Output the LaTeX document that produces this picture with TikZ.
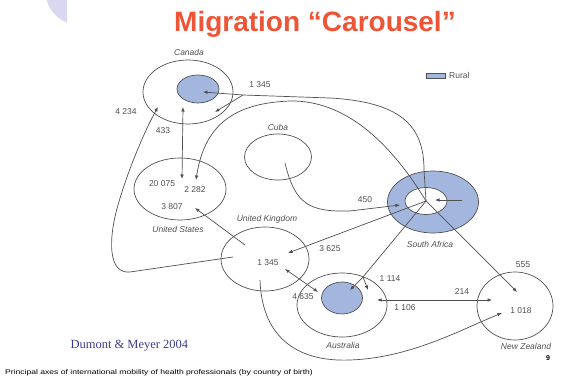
\documentclass[tikz,border=0pt]{standalone}
\usepackage{fontspec}
\setmainfont{Liberation Sans}
\newfontfamily\dmfont{Liberation Serif}
\usetikzlibrary{shapes.geometric,arrows.meta}
\definecolor{linegray}{HTML}{505050}
\definecolor{ruralblue}{HTML}{A3B6DD}
\definecolor{titlered}{HTML}{EE5436}
\definecolor{dmblue}{HTML}{3C3C8A}
\definecolor{lavender}{HTML}{D8D8F0}

\begin{document}
\begin{tikzpicture}[x=1pt,y=-1pt,>={Latex[length=4.5pt,width=3.6pt]},
	country/.style={draw=linegray, ellipse, line width=0.7pt, inner sep=0pt},
	rural/.style={country, fill=ruralblue},
	flow/.style={draw=linegray, line width=0.7pt},
	num/.style={font=\fontsize{8.5}{9}\selectfont, text=linegray, inner sep=0pt},
	cname/.style={num, font=\fontsize{8.5}{9}\selectfont\itshape}]
		\useasboundingbox (0,0) rectangle (561,379);
		\begin{scope}
		\clip (0,0) rectangle (67,30);
		\fill[lavender] (80,-10) circle (35);
		\end{scope}
		\node[font=\bfseries\fontsize{28}{30}\selectfont, text=titlered] (title) at (315,24) {Migration “Carousel”};
		\node[country, minimum width=90pt, minimum height=64pt] (canada) at (188,92) {};
		\node[rural, minimum width=42pt, minimum height=28pt] (canadain) at (198,89) {};
		\node[country, minimum width=92pt, minimum height=62pt] (usa) at (180,189) {};
		\node[country, minimum width=67pt, minimum height=46pt] (cuba) at (278,157) {};
		\node[rural, minimum width=91pt, minimum height=62pt] (safrica) at (433,202) {};
		\node[country, fill=white, minimum width=42pt, minimum height=27pt] (safricain) at (426,201) {};
		\node[country, minimum width=88pt, minimum height=64pt] (uk) at (265,259) {};
		\node[country, minimum width=90pt, minimum height=64pt] (australia) at (342,305) {};
		\node[rural, minimum width=41pt, minimum height=32pt] (australiain) at (342,298) {};
		\node[country, minimum width=76pt, minimum height=68pt] (nz) at (515,306) {};
		\node[cname] (canadaname) at (189,52) {Canada};
		\node[cname] (usaname) at (178,229) {United States};
		\node[cname] (cubaname) at (278,127) {Cuba};
		\node[cname] (safricaname) at (430,244) {South Africa};
		\node[cname] (ukname) at (267,219) {United Kingdom};
		\node[cname] (australianame) at (343,345) {Australia};
		\node[cname] (nzname) at (526,346) {New Zealand};
		\node[num] (cain) at (260,85) {1 345};
		\node[num] (ukca) at (126,112) {4 234};
		\node[num] (caus) at (163,131) {433};
		\node[num] (usca) at (162,184) {20 075};
		\node[num] (ussa) at (195,190) {2 282};
		\node[num] (usuk) at (172,207) {3 807};
		\node[num] (cubasa) at (365,200) {450};
		\node[num] (ukin) at (268,263) {1 345};
		\node[num] (sauk) at (330,249) {3 625};
		\node[num] (saau) at (390,279) {1 114};
		\node[num] (ukau) at (303,297) {4 635};
		\node[num] (nzau) at (405,308) {1 106};
		\node[num] (aunz) at (462,292) {214};
		\node[num] (sanz) at (523,265) {555};
		\node[num] (uknz) at (521,311) {1 018};
		\node[draw=linegray, fill=ruralblue, minimum width=19pt, minimum height=5pt, inner sep=0pt] (legendbox) at (435.5,75.5) {};
		\node[num, anchor=west] (legendtext) at (449,75.5) {Rural};
		\node[font=\dmfont\fontsize{12.5}{14}\selectfont, text=dmblue, anchor=west] (source) at (67,346) {Dumont \& Meyer 2004};
		\node[font=\fontsize{6.8}{7}\selectfont, anchor=west, inner sep=0pt] (caption) at (5,373) {\scalebox{1.26}[1]{Principal axes of international mobility of health professionals (by country of birth)}};
		\node[font=\bfseries\fontsize{7}{8}\selectfont] (pagenum) at (548,358) {9};
		\coordinate (catipin) at (203,92);
		\coordinate (catipout) at (215,112);
		\coordinate (cabranch) at (243,95);
		\coordinate (catipuk) at (158,107);
		\coordinate (catipus) at (183,107);
		\coordinate (ustipca) at (182,179);
		\coordinate (ustipsa) at (196,180);
		\coordinate (ustipuk) at (195,208);
		\coordinate (uktipsa) at (288,253);
		\coordinate (uktipau) at (285,269);
		\coordinate (uktailus) at (245,245);
		\coordinate (uktailca) at (233,257);
		\coordinate (uktailnz) at (260,280);
		\coordinate (autipuk) at (318,292);
		\coordinate (autipin) at (350,290);
		\coordinate (aubranch) at (363,277);
		\coordinate (autipout) at (368,290);
		\coordinate (autipnz) at (377,300);
		\coordinate (nztipau) at (492,300);
		\coordinate (nztipsa) at (517,292);
		\coordinate (nztipuk) at (502,313);
		\coordinate (satipcuba) at (400,205);
		\coordinate (satipin) at (435,200);
		\coordinate (satail) at (462,200);
		\coordinate (cubatail) at (285,163);
		\draw[flow, <->] (catipus) -- (ustipca);
		\draw[flow, ->] (safricain.center) -- (424,170) .. controls (424,125) and (400,102) .. (330,98) -- (cabranch) -- (catipin);
		\draw[flow, ->] (cabranch) -- (catipout);
		\draw[flow, ->] (safricain.center) .. controls (395,150) and (350,100) .. (290,101) .. controls (240,103) and (205,120) .. (ustipsa);
		\draw[flow, ->] (uktailca) -- (130,272) .. controls (108,274) and (108,240) .. (118,205) .. controls (128,170) and (145,130) .. (catipuk);
		\draw[flow, ->] (cubatail) .. controls (295,205) and (310,212) .. (350,211) -- (satipcuba);
		\draw[flow, ->] (satail) -- (satipin);
		\draw[flow, ->] (safricain.center) -- (uktipsa);
		\draw[flow, ->] (safricain.center) -- (aubranch) -- (autipin);
		\draw[flow, ->] (aubranch) -- (autipout);
		\draw[flow, ->] (safricain.center) -- (nztipsa);
		\draw[flow, <->] (autipnz) -- (nztipau);
		\draw[flow, <->] (uktipau) -- (autipuk);
		\draw[flow, ->] (uktailus) -- (ustipuk);
		\draw[flow, ->] (uktailnz) .. controls (262,340) and (300,362) .. (350,360) .. controls (410,358) and (460,330) .. (nztipuk);
\end{tikzpicture}
\end{document}
